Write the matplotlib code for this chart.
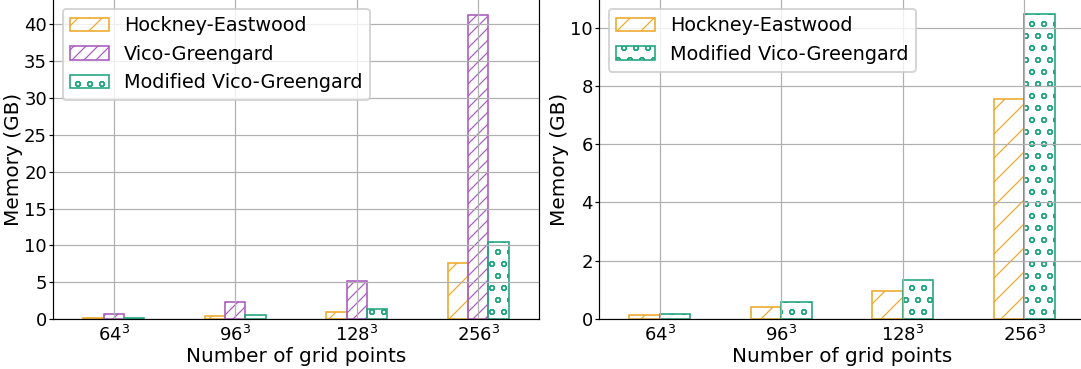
import numpy as np
import matplotlib.pyplot as plt

grid_labels = [r"$64^3$", r"$96^3$", r"$128^3$", r"$256^3$"]

# memory in GB per grid size
hockney_eastwood = [0.13, 0.42, 0.97, 7.55]
vico_greengard = [0.65, 2.25, 5.2, 41.3]
modified_vg = [0.18, 0.58, 1.33, 10.46]

c_he = "#eea82a"
c_vg = "#aa5ac0"
c_mvg = "#1fa57e"

plt.rcParams["hatch.linewidth"] = 0.6

fig = plt.figure(figsize=(1081 / 144, 369 / 144), dpi=144)
h = 320 / 369
b = 50 / 369
ax1 = fig.add_axes([53 / 1081, b, 486 / 1081, h])
ax2 = fig.add_axes([599 / 1081, b, 486 / 1081, h])

x = np.arange(len(grid_labels))

w = 0.166
ax1.bar(x - w, hockney_eastwood, w, fill=False, edgecolor=c_he, hatch="//",
        linewidth=0.8, label="Hockney-Eastwood")
ax1.bar(x, vico_greengard, w, fill=False, edgecolor=c_vg, hatch="////",
        linewidth=0.8, label="Vico-Greengard")
ax1.bar(x + w, modified_vg, w, fill=False, edgecolor=c_mvg, hatch="oo",
        linewidth=0.8, label="Modified Vico-Greengard")

w2 = 0.25
ax2.bar(x - w2 / 2, hockney_eastwood, w2, fill=False, edgecolor=c_he, hatch="//",
        linewidth=0.8, label="Hockney-Eastwood")
ax2.bar(x + w2 / 2, modified_vg, w2, fill=False, edgecolor=c_mvg, hatch="oo",
        linewidth=0.8, label="Modified Vico-Greengard")

ax1.set_yticks(np.arange(0, 41, 5))
ax2.set_yticks(np.arange(0, 11, 2))

for ax in (ax1, ax2):
    ax.set_xlim(-0.5, 3.5)
    ax.set_xticks(x)
    ax.set_xticklabels(grid_labels)
    ax.tick_params(labelsize=9, width=0.6, length=2, pad=1)
    ax.tick_params(axis="x", length=0, pad=3)
    ax.set_xlabel("Number of grid points", fontsize=10, labelpad=1)
    ax.set_ylabel("Memory (GB)", fontsize=10)
    ax.yaxis.set_label_coords(-0.061, 0.5)
    ax.grid(True, color="#b0b0b0", linewidth=0.6)
    for s in ax.spines.values():
        s.set_linewidth(0.6)
    ax.legend(loc="upper left", fontsize=9.6)

ax1.set_ylim(0, 43.45)
ax2.set_ylim(0, 10.98)

fig.savefig("out.png", dpi=144)
